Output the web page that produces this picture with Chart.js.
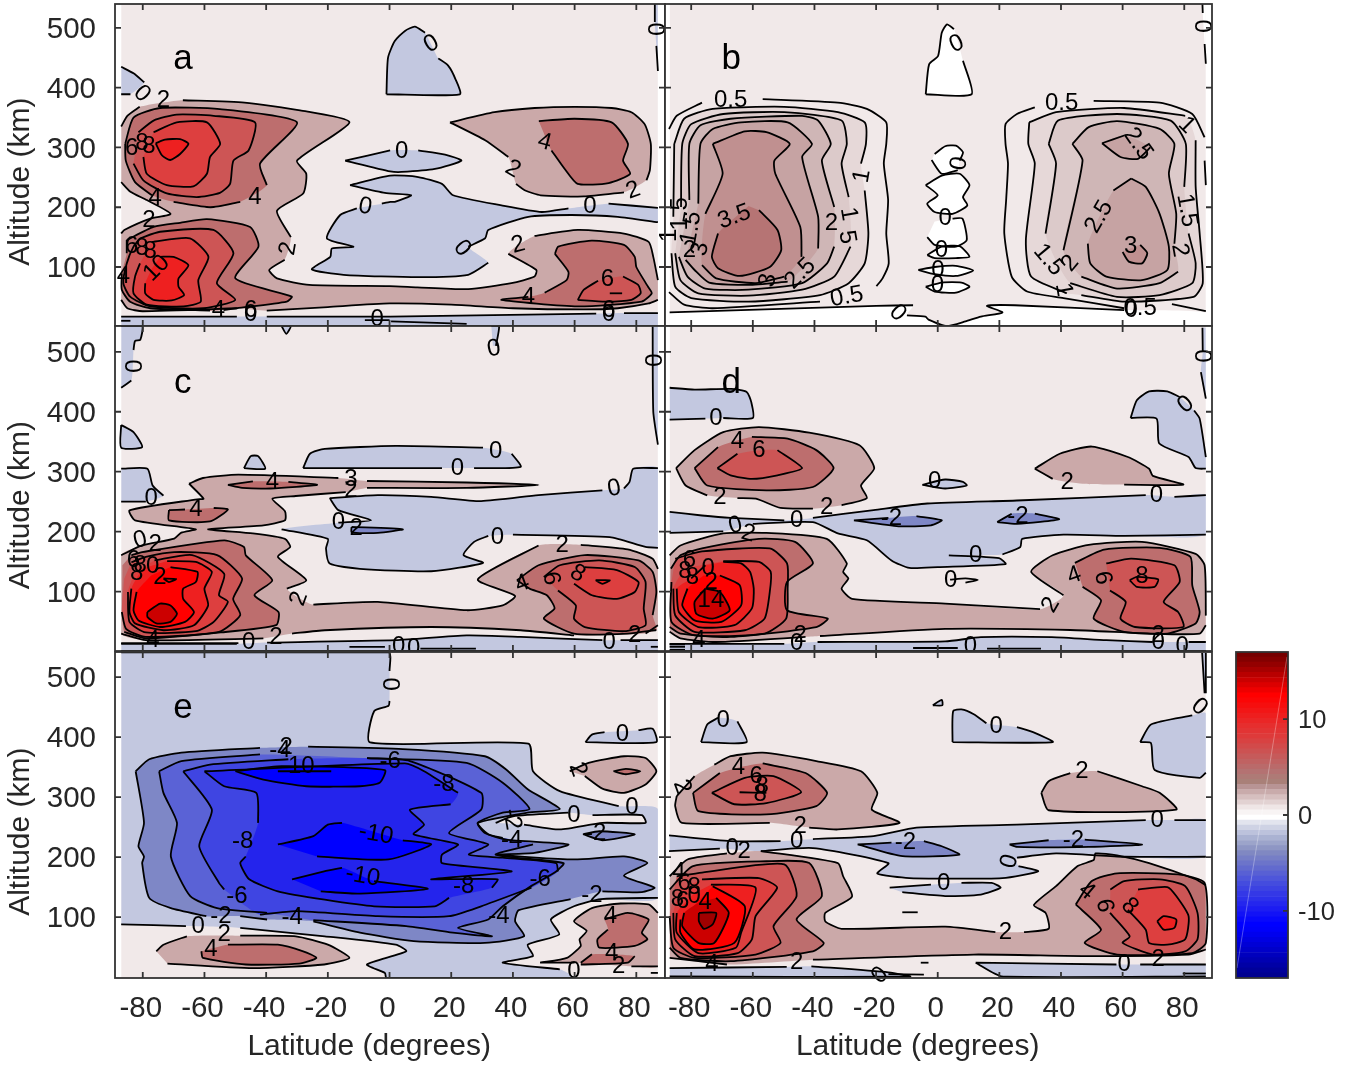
<!DOCTYPE html>
<html>
<head>
<meta charset="utf-8">
<title>Altitude latitude contours</title>
<script src="https://cdn.jsdelivr.net/npm/chart.js@4/dist/chart.umd.min.js"></script>
<style>
html, body { margin: 0; padding: 0; background: #fff; overflow: hidden; }
#page { position: relative; width: 1360px; height: 1066px; overflow: hidden; }
canvas { position: absolute; }
</style>
</head>
<body>
<div id="page"></div>
<script>
// BR = break in the drawn contour (gap for a label); the fill ignores it
var BR = null;

var latTicks = [-80, -60, -40, -20, 0, 20, 40, 60, 80];
var altTicks = [100, 200, 300, 400, 500];
var barTicks = [-10, 0, 10];

// contour shapes: [level, [lat, alt, lat, alt, ...]]
var panelA = [
  [0, [-87,435,-83,424,-79.5,409,BR,-84,389,-87,389]],
  [0, [-1,389,-0.5,450,1.7,478,5,495,8.2,502,11.5,492,BR,15.8,449,19,437,21.4,414,22.8,389,-1,389]],
  [0, [86,540,86,510,BR,86.5,470,87,428,BR,87,540]],
  [0, [-87,17,-49.5,17,BR,-39.8,17,0.2,17,67,22,BR,76,23,87,23,BR,87,1,-87,1]],
  [0, [-14.4,278,0.2,295,BR,9.3,295,18,288,23.3,278,14.7,264,3.9,259,0.2,260,-14.4,278]],
  [0, [-12.8,237,0.2,253,9.3,250.5,17,239,20.6,220,36.3,203,49.3,192,58,198,BR,71,206,87,199,BR,87,175,74,184,59,187,45,184,32,162,31,148,25.5,134,BR,32,107,25.5,87,9.3,83,-14.9,87,-25.2,96,-19.2,117,-18.7,131,-11.7,134,-20.3,148,-16,187,-10.6,198,BR,-2.5,206,0.2,209,1.7,209,7,220,-1.5,224,-12.8,237]],
  [2, [-87,335,-85,353,-81,368,BR,-67,379,-47,375,-29,362,-13,342,-30,278,-27,256,-28,223,-36.5,194,-32,150,BR,-34,112,-39,95,-36.5,81,-26,70,0,68,9,66,25.5,63,39.5,73,47,84,47.6,95,38.5,122,BR,47,152,61,162,76,156,84,142,85.5,117,87,78,BR,87,45,84,39,74,31,63,29,40,31,20,37,0,39,-20,33,-39.8,27,BR,-49.5,31,-80,26,-85,31,-87,45,BR,-87,156,-86,162,-77.6,181,-71,189,-78.7,212,-84,226,-87,242]],
  [2, [19.6,342,34,359,47,366,60,368,72,366,78.4,359,82.7,339,84.7,306,84.4,262,83.3,245,BR,76,225,63,218,49,220,44,228,41,239,BR,38.5,284,31,312,19.6,342]],
  [4, [-85.7,306,-85.5,278,-82.5,242,-77,220,BR,-70,209,-58,200,-48.4,209,BR,-39.8,237,-42,273,-30,342,-55,364,-74.4,366,-83,350,-85.7,306]],
  [6, [-81.4,325.5,-76.5,345,-69,355,-57,353,-43.6,342,-45.7,295,-50.6,278,-51.7,239,-55,224,-62.5,217,-72.2,223,-79.8,245,-83,273,BR]],
  [8, [-79.8,284,-78.7,256,-72.2,237,-63.6,235,-59.2,256,-58.2,284,-54.9,306,-59.2,342,-69,342,-76.5,325.5,BR]],
  [10, [-75.8,307,-72.8,313,-67.9,314,-65.2,306,-67.9,289,-71.1,279,-73.8,287]],
  [4, [-85.2,145,-76.5,167,-67.9,174,-59.2,180,-45.2,167,-42.5,134,-50,81,-31.7,50.5,-33.3,42,-49.5,31,-53.8,28,BR,-58.2,27,-77.6,31,-84.1,42,-86.8,62,-86.8,89,BR,-85.2,123,-85.2,145]],
  [6, [-80.9,148,-74.4,159,-57.1,162,-50.6,123,-56,73,-50,45,-60.3,31,-77.6,34,-84.1,50.5,-86.3,73,-85.2,106,-83,134]],
  [8, [-77.1,142,-64.7,148,-58.7,117,-62,78,-61.2,42,-66.8,34,-78.7,37,-83,56,-82.5,84,-80.9,106,BR]],
  [10, [-74.4,117,-70,117,-65.2,103,-68.4,81,-68.4,67,-66.6,53,-70.6,44,-76.5,45,-79.2,56,-79.2,73,BR,-77,98]],
  [4, [48.4,344,60,348,72,342,77.3,306,75.7,278,78,256,71,240.5,61,239,56.8,264,52.5,295,BR,48.4,344]],
  [4, [53.6,122,54.7,134,65.5,144,76,137,79.5,117,80,100,83.8,67,85,56,81.7,42,61,34,36.3,45,45,50,BR,50.3,57,57.4,78,58,92,53.6,122]],
  [6, [61,45,63,62,67.6,77,BR,75.7,84,80.6,70,81.4,56,78.4,45,70,42,61,45]],
  [null, [71.4,56,75.4,56]],
  [null, [-87,10,-84,10]],
  [null, [-8,11,0,11,BR,0.5,9,25,5]]
];

var labelsA = [
  [-73.3,378,'2'],[-80.3,390,'0',45],[-83.6,298,'6'],[-80.3,306,'8'],[-78,302,'8'],[-76,214,'4'],[-43.6,217,'4'],
  [-78,178,'2'],[-83.6,134,'6'],[-80.3,131,'8'],[-77.6,126,'8'],[-75.5,98,'10',-45],[-86.3,84,'4'],[-55.5,28,'4'],
  [-45,27,'6'],[-45,21,'0'],[-32.8,131,'2',-80],[-7.9,201,'0',10],[-4,12,'0'],[13.6,473,'0',-30],[86,498,'0',90],
  [3.9,294,'0'],[40,264,'2',30],[79,228,'2',-20],[50.3,309,'4',15],[65,202,'0'],[23.5,131,'0',50],[41.7,137,'2',-15],
  [70.6,79,'6'],[45,50,'4'],[71,27,'6'],[71,21,'0']
];

var panelB = [
  [0, [-87,24,-20,35,-8,36,BR,-10,19,-4,17,-3,12,3,1,9,9,14,17,21,24,16,35,25,36,60.5,28,BR,87,24,BR,87,0,-87,0]],
  [0, [-3.9,389,-2.8,439,0.1,453,1.3,492,3,506,5.3,498,BR,8.2,445,11,389,-3.9,389]],
  [0, [-1,289,2.4,302,5.9,303,8.2,292,7.1,278,BR,6.5,262,1.3,256,-2,279]],
  [0, [-3.9,237,1.3,253,7.1,256,10.3,237,8.2,217,9.6,203,4.8,189,-1,192,-3.4,206,0,220]],
  [0, [-1,176,BR,4.8,181,8,181,9.4,145,5.9,134,-1,137,-3.4,150]],
  [0, [-3.4,120,1.3,134,7.1,135,10.3,117,5.9,115,-1,115]],
  [0, [-6.3,95,-1,100,5.9,102,11.5,94,5.9,85,-1,88]],
  [0, [-3.9,67,1.3,74,7.7,74,10.3,67,5.9,57,-1,59]],
  [0, [85.9,540,86,525,BR,86.6,473,87,440,BR,87,540]],
  [1, [-85.5,306,-82.3,348,-73,364.5,-49.8,368,-32.4,359,-23.7,342,-23.3,306,-24.9,273,BR,-23.7,228,-22.5,156,-23.7,106,-28.9,73,-38.2,53,-61.4,42,-80,48,-85.2,67,-86.4,123,BR,-85.8,184,-85.5,306]],
  [1.5, [-83.3,200.5,-82.9,306,-80,339,-69.6,356,-49.8,359,-31.2,345,-29.5,306,-31.2,273,-28.9,217,BR,-28.3,134,-33.6,84,-44,62,-61.4,52,-77.7,56,-83.5,78,-85.2,123,BR]],
  [2, [-80.6,212,-80.6,306,-77,337,-67.2,348,-44,353,-38.8,345,-34.7,306,-37.6,278,-33.6,200.5,BR,-33.6,134,-35.9,106,-44,73,-61.4,62,-75.4,64,-81.2,84,-84,117,BR]],
  [2.5, [-77.7,206,-77,306,-73,331,-63.8,342,-48.7,342,-40.8,306,-44,284,-38.8,184,-38.8,131,BR,-48.7,75.5,-61.4,70,-74.2,74,-78.9,95,-81.8,112,BR]],
  [3, [-73,306,-62.6,327,-55.6,325.5,-48,306,-53,278,-52.7,256,-44.6,167,-44.2,117,BR,-49.8,84,-59,73,-71.9,81,-76.5,103,BR,-75.4,189,-69.8,256,-73,306]],
  [3.5, [-58,195,-52,162,-50.8,128,-54.5,100,-64.3,85,-71.3,98,-73.3,117,-71.3,156,BR,-61.4,202]],
  [1, [29.7,342,38.4,359,60.5,366,80.3,353,BR,83.7,312,83.7,234,85,156,86,73,83,50,60.5,42,46.6,53,BR,41.9,56,30.3,84,28.6,145,31.5,273,29.4,306,29.7,342]],
  [1.5, [36,306,39,345,58.2,356,75.6,345,80.5,306,80,234,BR,81.4,156,83.7,106,82.6,73,72,53,58.2,50,43,73,BR,35,156,38.4,273,36,306]],
  [2, [43.7,306,49,334,58.2,344,72,331,76.8,306,75,256,77.4,189,76.8,139,BR,78,92,72,73,58.2,64,46.6,84,BR,40.8,128,47,278,43.7,306]],
  [2.5, [53.3,307,60.5,320,BR,69,300,65,281,59.3,284,53.3,307]],
  [2.5, [62.8,248,67.5,234,72,189,75,134,74.5,95,66.3,78,54.7,84,49.5,106,48.7,139,BR,57,228,62.8,248]],
  [3, [60,125,BR,65.7,137,68,123,66.3,106,62,109,60,125]],
  [null, [-87.2,331,-84.7,353,-76.5,375,BR,-56.8,381,-32.4,375,-23,364.5,-16.7,342,-16.7,306,-17.5,273,-16.1,212,-16.7,156,-15.9,106,-17.9,81,-19.9,68]],
  [null, [-87.2,58,-82.3,37,-73,31,-38.2,42]],
  [null, [31.5,367,25.7,356,22,339,22,306,22.8,273,22.2,212,21.6,156,24,84,29,59,40.8,48,60.5,31]],
  [null, [50.6,378,72,375,82.6,356,86.6,317]],
  [null, [86.6,278,87,237]],
  [null, [76,38,87,26]]
];

var labelsB = [
  [-67.2,378,'0.5'],[40.2,373,'0.5'],[-24.5,252,'1',-80],[80.8,337,'1',45],[-83.5,189,'1.5',-90],[-80,165,'1.5',-80],
  [-87,153,'1',-90],[-80.6,128,'2'],[-77,130,'3',-80],[-66,184,'3.5',-20],[-29,189,'1',80],[-34.5,173,'2'],[-29.5,150,'5',80],
  [-44.6,89,'2.5',-45],[-55,78,'3',-80],[-29.5,50,'0.5',-10],[-13,23,'0',45],[6.2,473,'0',-25],[7,273,'0',-80],[2.4,181,'0'],
  [1.2,128,'0'],[0.1,95,'0'],[-0.1,70,'0'],[65,306,'2.5',55],[52.4,184,'2.5',-60],[62.6,134,'3'],[80.8,195,'1.5',80],
  [78.5,128,'2',80],[36,112,'1.5',50],[43,106,'2',-50],[40.8,62,'1',80],[65.7,31,'0.5'],[62.8,28,'0'],[85.5,503,'0',90]
];

var panelC = [
  [0, [-87,543,-80.2,543,-80.8,520,-82.5,518,-83,503,BR,-83.7,452,-87,440]],
  [0, [-87,378,-83,366,-80.2,341,-87,340]],
  [0, [-47.2,306,-45,326,-42.6,326,-40.3,305]],
  [0, [-28,306,-25.8,330,-21,338,2,343,30.3,340,BR,39.6,330,42.5,308,27.4,306,BR,17,306,-28,306]],
  [0, [-87,305,-78.5,305,-76.8,277,-73.3,260,BR,-79,250,-87,250]],
  [0, [-19.4,256,-16.6,236,-6,219,-16.6,215,BR,-35,204,-20,188,-20.6,172,-19.4,147,-9.6,138,13.5,134,30.3,148,24,161,27.4,183,32,193,BR,40,195,71.4,191,83,174.5,87,173,BR,87,306,79,305,77.8,283,76,272,BR,69,269,48.3,261,29.7,251,13.5,258,-3.8,261,-19.4,256]],
  [-2, [-12.3,208,4.3,204,-3.8,198,-12.3,199]],
  [0, [85.3,543,85.5,400,87,345,BR,87,543]],
  [0, [33,543,35.5,543,34.5,510,BR,33.5,510]],
  [0, [-35,543,-33.5,530,-32,543]],
  [2, [-65,280,-60.5,289.5,-49,295,-16.6,289.5,BR,-7.3,284.5,25,282,48.3,278,25,273,-7.3,273,BR,-14.2,266,-30.4,259.5,-38,255,-33.9,234,-33.9,219,-40.9,210.6,-58.8,204,-44.3,197,-33.9,188,-32.2,174.5,-36.2,158,-27,119,-33.3,105,BR,-24.7,78.4,-3.8,83,25,69,36.7,77,40.7,93,28.6,120.6,48.3,177,BR,62,178,77.2,170.6,85.3,155,87,138,BR,87,44,83,30,BR,59.8,27,42.5,35.6,13.5,41,-21,35.6,-31.6,30,BR,-40.9,22,-79,19,-87,30,BR,-87,160.6,-80.2,177,-69.8,188.4,-67.5,198.4,-62.8,204,-82.5,219,-84.3,235.6,-62.3,254,-60.3,255,-65,280]],
  [0, [-87,13,-49.5,13,BR,-39.7,15,2,19,25,27,42.5,24.5,69,19,BR,74.9,19,87,19,BR,87,1,-87,1]],
  [4, [-52.4,278,-44.3,284,BR,-32.8,283,-23.5,278,-38.6,272,-47.8,273,-52.4,278]],
  [4, [-71.5,236,-66.3,237,BR,-57,239.5,-52.4,237,-58.2,217,-71.5,219,-71.5,236]],
  [4, [-83.7,160.6,-80.2,166,-53.6,185.6,-47.2,174.5,-46.6,160.6,-38,119,-43.8,94,-36,66,-36.8,44,-54.7,32,-79,22,-86,33,BR,-86.6,144]],
  [6, [-83.7,149,-79,158,-69.8,166,-55.9,161,-47.8,122,-50.7,88,-48.4,61,-55.3,33,-79,24.5,-85.4,38,-86.8,66,BR,-86,122]],
  [8, [-76.2,152,-64,161,-53.6,130,-55.3,94,-52.4,83,-57,49.5,-62.8,34,-79,32,-84.3,49.5,-84.8,99.5,BR,-82.5,133]],
  [10, [-72.1,151,-62.8,149.5,-57.6,133,-60,105,-58.8,77,-63.4,44,-73.3,35.6,-82.5,47,-84.3,66,-83.7,105,BR,-80.2,138]],
  [12, [-71,141,-62.3,133,-62.8,116,-66.9,105,-66.9,88,-63.4,66,-66.3,49.5,-74.4,41,-81.4,52,-83,69,-82,99.5,BR,-77.3,127]],
  [14, [-78.5,66,-74.4,80,-71,77,-68.9,63,-71,49.5,-75.6,47,-78.5,58]],
  [null, [-73.3,122,-69.2,121,-71.5,116,-73.3,122]],
  [4, [41.3,119,48.3,144,63.3,161,80.7,152,85.3,133,86.5,99.5,85.3,61,BR,86.5,36,77.2,30,59.8,30,50,55,53.5,72,51,94,45.4,105,41.3,119]],
  [6, [50,124.5,55.2,144,68,152,79.5,141,83,116,82.4,72,83,44,76,34,63.3,41,59.8,55,60.4,77,54.6,102,BR]],
  [8, [63.3,141,73.7,136,80.7,116,79.5,99.5,73.7,88,65.6,94,59.8,113,BR]],
  [10, [66.8,119,71.4,119,69,113]],
  [null, [-13,8,-1.5,8,BR,10,5,28,5]],
  [null, [84.7,8,87,8]],
  [null, [-87,14,-49,14]]
];

var labelsC = [
  [-83.7,476,'0',90],[33.8,505,'0',-10],[85,486,'0',90],[34.4,334,'0'],[22,305,'0'],[72.8,272,'0',-10],[-77.3,255,'0'],
  [-12.5,287,'3'],[-12.5,269,'2'],[-38,283,'4'],[-62.8,238,'4'],[-16.6,215,'0'],[-10.8,205,'2'],[35,191,'0'],
  [-80.8,186,'0',-15],[-76,178,'2'],[56,177,'2'],[-29.3,88,'2',-70],[-76.7,19,'4'],[-45.7,16,'0'],[-36.8,24,'2'],
  [71.2,16,'0'],[79.5,27,'2'],[43,113,'4',-20],[52.3,122,'6',80],[61,130,'8',30],[3,8,'0'],[7.8,5,'0'],
  [-83,152,'6'],[-80.8,144,'8'],[-82,131,'8'],[-76.8,142,'0'],[-74.4,124,'2']
];

var panelD = [
  [0, [-87,440,-78.9,437,-67,438,-62,433,-60.5,416,-60,389.6,-69.6,389.6,BR,-75.4,388.5,-87,387]],
  [0, [62.6,389.6,64.6,419,68.6,434,74.5,434,78.5,424.5,BR,83.2,402,85,388.5,87,324.5,BR,87,305,83.7,306,81.4,324.5,71.9,347,71,388.5,62.6,389.6]],
  [0, [85.9,540,86,500,BR,85.4,466,87,422,BR,87,540]],
  [0, [-5,278,2.4,287,8.2,283,9.4,277,2.4,272]],
  [0, [-87,233,-76.5,227,-67.2,223,-49.8,219,BR,-40.5,223,-20.8,236,-3.4,247,25.7,252,67.5,261,BR,76.8,258,87,261,BR,87,195,60.5,193,40.8,195,27.4,188,26.8,174.5,21,162,BR,3.6,160.6,19.9,156,22,146,0,141,-9.2,139.5,-15,152,-23,185.6,-32.4,197,-40.5,216,-60,213,BR,-69.6,200.6,-87,198]],
  [-2, [-27.2,219,-16,223,BR,-6.9,226,1.3,219,-2.2,210.6,-12.7,209,-27.2,219]],
  [-2, [19.3,216,24,230,BR,31.5,230,39.4,220.6,25.7,213,19.3,216]],
  [0, [-87,13,-49.8,13,BR,-39,16,2.4,17,14,24,37,24,54.7,19,69.8,16,BR,81.4,16,87,16,BR,87,1,-87,1]],
  [2, [-84.9,306,-78.9,336,-69.6,366,-58,374.5,-41.7,365,-25.4,344,-20.6,306,-24.9,277,-23,256,-31.2,244,BR,-40.5,238.4,-51,239.5,-59,255,-65,256,BR,-74.8,260.6,-81.8,277,-84.9,306]],
  [4, [-78.9,306,-71.3,341,BR,-60.3,358,-48.7,355,-39.4,336,-33.8,306,-40.5,274.5,-55.6,269,-74.8,277,-78.9,306]],
  [6, [-71.5,306,-65,330,BR,-52,336,-44,306,-52,294,-60.3,288,-67.2,294,-71.5,306]],
  [2, [31.5,305,39.6,330,50,342,61.7,324.5,68.6,305,69.8,293,79.7,278.5,60.5,278.5,BR,47,280,BR,37.3,288,31.5,305]],
  [2, [-87,160.6,-83.5,177,-69.6,197,-55.6,198,-36,188,-29.5,147,-30.7,133,-29,122,-31.2,105,-27.8,88,2.4,80,33.2,70.7,BR,40.8,94,30.3,133,37.3,160.6,49,178,66.3,183,83.7,163,86.6,144,87,60,BR,87,44,85,30,69.8,30,43,36,2.4,38,-38.2,26,BR,-42.9,24.5,-71.9,16,-83.5,22,-87,33,BR]],
  [4, [-86.6,138.4,-83.5,160.6,-76.5,172,-58,188,-46.3,183,-40.5,147,-48.9,116,-48.9,69,-35.7,55,-39.4,41,-67.2,24.5,-83.5,30,-87,41,BR]],
  [6, [-85.2,155,-76.5,167,-54.5,172,-48.9,147,-48.7,105,-49.2,55,-56.2,30,-78.9,27,-86.4,49.5,-86.4,116,BR]],
  [8, [-69.6,151,-58,149.5,-54.2,133,-54.5,99.5,-56.2,55,-62.6,35.6,-78.9,33,-85.2,60.6,-85.8,105,BR,-82.3,138.4]],
  [10, [-69.6,149.5,-63.8,147,-60.9,133,-59.7,105,-60.3,72,-66,44,-77.7,41,-84,66,-84.7,105,BR,-80,122,-75.4,144]],
  [12, [-70.7,127,-64.3,111,-63.8,77,-70.2,49.5,-78.9,52,-82.9,77,-81.2,105,BR,-76,127]],
  [14, [-75.4,105,-70.7,99.5,-67.5,69,-73,55,-78.3,63,-78.9,83]],
  [4, [44.5,148,54,170,72,173,82,158,82.6,110.6,85,66,83.7,47,74.5,30,60.5,33,50.6,55,53,85.6,47,108,BR]],
  [6, [54.7,147,62.8,155,76.8,144,78.5,116,73.3,83,78,66,79.7,41,64,41,59.3,55,61,83,55.9,102,BR]],
  [8, [62.3,119,64.6,124.5,71.5,120.6,70.4,108,64.6,108]],
  [null, [4,120,9,122,13,119.5,9,115]],
  [null, [-87,12,-82,12]],[null, [-87,8,-82,8]],[null, [-87,3,-82,3]],
  [null, [-8,6,6.5,6,BR,16,5,33.5,5]]
];

var labelsD = [
  [-72,389,'0'],[80.5,412,'0',-40],[85.5,493,'0',90],[-1,284,'0'],[71,260,'0'],[-65.6,210,'0',-15],[-61.5,197,'2',15],
  [-45.8,219,'0'],[-36,241,'2'],[-70.7,257,'2'],[42,283,'2'],[-65,350,'4'],[-58,336,'6'],[-15,223,'-2'],[26,226,'-2'],
  [12.3,161,'0'],[4.2,119,'0'],[36.7,78,'2',-60],[44.3,127,'4',-20],[53.5,123,'6',80],[66.3,126,'8'],
  [-80.6,152,'6'],[-82,133,'8'],[-79.6,124,'8'],[-74.5,138,'0'],[-73.5,115,'2'],[-73.6,85,'14'],[-77.5,19,'4'],
  [-45.8,13,'0'],[-44.6,27,'2'],[71.5,16,'0'],[71.5,27,'2'],[79.3,8,'0'],[10.6,8,'0']
];

var panelE = [
  [0, [-87,541,-0.3,541,0,510,BR,0,460,-0.3,452,-5,443,-6.3,391,45,389,46.5,343,55.2,310,74.3,285,BR,87,280,BR,87,132,68.5,130,59.8,118,52.3,96,55,71,44.8,54,46.5,35,36.7,24,55.2,13,BR,59.8,-1.5,-1,-1.5,-1.5,7,-7.3,21,5.4,43,2,54,-21,68,-48.4,82,BR,-66,85,-87,88,BR]],
  [1, [34.4,257,40,268,58,274,BR,65.8,270,81.8,270,83,257,69,257,55.2,246,43.6,254]],
  [0, [63.5,391.5,65.6,404,69.7,408,BR,80.7,411.5,85.3,414,86.5,391.5,63.5,391.5]],
  [2, [58.4,343,64.5,357,76,368,83,365,86.5,343,83,321,76,307,69,314,63.3,335,BR]],
  [4, [72.6,343,76.6,347,81.3,343,76.6,338]],
  [-2, [62.7,238,68,243,79.5,238,69,228]],
  [-2, [-82.3,343,-77.9,363,-67.5,374,-42,382,BR,-26.4,384,4.3,380,30.9,368,37.8,346,44.8,313,55.2,280,44.8,274,28.6,257,30.9,240,37.8,229,58,221,47,207,35,204,59.8,196,76,201,83.6,190,76,169,85.9,149,81.8,141.5,69,143,BR,58.7,130,41.9,111.5,40.7,93,43.6,68,30.9,57,7.8,60,-9.6,74,-24.7,93,BR,-39.7,96,-48.4,101.5,BR,-59.4,101.5,-70.9,115,-77.9,132,-80.2,190,-79.6,201,-81.4,218,-79.6,257,-82.3,343]],
  [-4, [-74.7,343,-67.5,360,-42,371,BR,-7.3,365,25,357,36.7,324,45.4,280,36.7,274,28.6,257,32,238,36.7,232,BR,46.5,221,34.4,204,56.4,190,54,176,46,152,36.7,118,32,96,22.2,82,33.2,68,20.5,74,5.4,85,-24.7,95,BR,-39.7,107,-55.9,115,-64.6,135,-70.9,201,-68.9,257,-73.3,307,-74.7,343]],
  [-6, [-66.9,343,-58.2,354,-32.8,363,BR,-7.3,365,6.6,360,29.7,307,29.7,279,19.3,240,32,221,25.7,204,36.7,199,54,190,54.6,176,BR,46,149,29.7,118,19.3,101.5,-3.8,101.5,-30.4,110,-42,104,BR,-53.6,146,-55.3,157,-61.7,218,-57.6,279,-66.9,343]],
  [-8, [-60,343,5,356,11.2,343,22.2,307,BR,19.8,288,6.6,279,11.2,254,7.8,238,22.2,221,17,204,17,190,39.6,176,13.5,163,35,163,33.2,149,BR,19.3,132,14.7,118,-5,118,-21,129,-36.2,143,-45.5,163,-48.4,190,-46.6,201,BR,-42.6,257,-43.2,307,-53.6,318,-60,343]],
  [-10, [-50,343,-35,351.5,-1.5,345,-3.2,324,-9.6,318,-27,318,-40.9,329]],
  [null, [-36.2,343,-18.9,343]],
  [-10, [-36.2,221,-24.7,235,-20,254,-15.4,257,BR,4.3,228,13.5,221,-0.3,196,-23.5,201]],
  [-10, [-31.6,163,-21.2,176,-15.4,182,BR,-5,160,12.4,147,-9.6,139,-22.3,143]],
  [2, [-75.6,43,-73.3,54,-65.7,68,BR,-48.4,69,-30.4,68,-20,54,-13,32,-21.2,21,-44.3,15,-72,22.6]],
  [4, [-61,43,BR,-52.4,54,-36.2,54,-28,43,-23.7,32,-29.3,22.6,-46.6,21,-60.5,32,-61,43]],
  [2, [48.8,24,57.5,32,62,52,61.6,63,63.9,77,59.8,93,65.6,115,74.9,122.6,84,121,87,107,BR,87,18,78.4,18,BR,60,24,48.8,24]],
  [4, [69.7,96,77.2,107,84,96,81.8,74,83.6,63,79.5,52,68,49,67.4,63,70.8,79,BR,69.7,96]],
  [4, [62,24,65.6,38,BR,79.5,35,77.2,24,62,21]],
  [null, [84.7,7,87,7]]
];

var labelsE = [
  [0,488,'0',90],[75.5,404,'0'],[61,346,'2',70],[78.6,282,'0'],[59.8,269,'0'],[39.6,263,'-2',80],[66.8,240,'-2'],
  [39.6,228,'-4'],[65.6,137,'-2'],[48.8,163,'-6'],[24,151.5,'-8'],[35.5,101.5,'-4'],[-31.6,99,'-4'],[-49.5,135,'-6'],
  [-47.6,226,'-8'],[-4.4,238,'-10',10],[-8.7,168,'-10',10],[-29.9,351.5,'-10'],[0.2,360,'-6'],[17.6,321,'-8'],
  [-35.5,378,'-4'],[-33.5,382,'2'],[-62,84,'0'],[-54.7,101.5,'-2'],[-53.6,71,'2'],[-57.9,46,'4'],
  [59.8,10,'0'],[74.3,18,'2'],[72,40,'4'],[71.6,101,'4']
];

var panelF = [
  [0, [-76.8,391.5,-74.8,421,-71.3,432,BR,-65,426,-62,391.5,-76.8,391.5]],
  [0, [-1.6,453,1.3,462,1.5,453,-1.6,453]],
  [0, [4.8,391.5,5,443,7.7,446,11.7,438,15.8,423,BR,25.7,416.5,31.5,407,37.3,391.5,4.8,391.5]],
  [0, [65.7,391.5,69.2,421,82.6,436,BR,87,440,BR,87,340.4,85,332,70.4,345,69.2,390,65.7,391.5]],
  [0, [85.8,540,86.6,473,BR,87,473,87,540]],
  [0, [-87.2,236,-67.2,226.5,-51,226.5,BR,-40.5,230,-20.8,235,-6.9,249,25.7,254,67.5,261.5,BR,76.8,261.5,87,261.5,BR,87,200.5,60.5,200.5,38.4,206,25.7,199,BR,26.2,185,32.6,176.5,21,165,-9.2,165,-19.6,172.7,-16,190,-40.5,215,-57.4,210,BR,-70.7,214,-87.2,210]],
  [0, [-15.6,149,-2.2,154,BR,7.7,157,17.5,157,20.4,149,14,137.6,2.4,135,-11.5,141.5]],
  [-2, [-26,221,-15,224,BR,-4.5,226.5,1.3,218,7,204,-11.4,201.5,-26,221]],
  [-2, [23.3,221,36,228,BR,47.7,229,66.3,221,49,217,25.7,217,23.3,221]],
  [0, [-87,15,-49,17,BR,-41,18,-16,8,-9,1,-87,1]],
  [0, [12.3,24,58,21,BR,65.7,21,87,21,BR,87,1,21,1,12.3,24]],
  [2, [-84.7,301.5,-78.9,335,BR,-72.5,354,-67.2,368,-56.8,374,-39.4,360,-24.9,343,-19.6,307,-21.4,279,-12.4,257,-32.4,246,-41.7,249,BR,-54.5,257,-83,257,-85.2,285,-84.7,301.5]],
  [4, [-79.4,307,-70.7,340,BR,-56.8,356,-42.9,340,-35.9,307,-39.4,285,-55.6,271,-77.7,276.5,-79.4,307]],
  [6, [-73.3,307,-62.6,332,-53.3,335,-44.3,308,-55.6,290,-66,288,-73.3,307]],
  [null, [-64.3,308,-55.6,307]],
  [2, [33.6,307,36,326.5,43,340,BR,51.8,343,66.3,318,72,307,77.4,279,36,278,33.6,307]],
  [2, [-87,168,-81.2,196,-68.4,206,BR,-57.4,210,-32.4,190,-30.7,168,-27.8,134,-36.5,107,-36.5,93,-31.2,80.5,2.4,84,18.7,75,BR,28,75,36,80.5,35,107,31.2,120,38.4,151.5,45.4,185,50.6,195,51.2,206,58.2,203,68.6,190,83.7,163,87,153,BR,87,46,81.4,37.6,49,35,11.7,37.6,-40.5,29,BR,-68.4,21,-87,32,BR]],
  [4, [-87,146,-79.4,185,-55.6,193,-41.7,190,-37.6,135,-45.8,96,-37,57,-40.5,43,-67.2,26.5,-83.5,32,-87,49,BR]],
  [6, [-84.7,168,-76.5,174,-49.8,188,-45.8,135,-53.3,85,-51,57,-59.1,37.6,-78.9,32,-85.8,49,-87,101.5,BR]],
  [8, [-76.5,163,-58,165,-52.1,149,-59.1,101.5,-60.3,63,-64.9,40,-78.9,35,-85.2,63,-85.8,107,BR,-83.5,146]],
  [10, [-73.6,154,-59.1,149,-63.8,74,-65.5,49,-77.7,40,-84.7,74,-84.7,107,BR,-78.9,140]],
  [12, [-73,151.5,-62.6,118,-66,57,-78.9,46,-83.5,74,-83.5,96,BR]],
  [14, [-71.9,132,-67.8,107,-72.5,57,-77.7,57,-82.9,85,-82.3,107,BR,-77.7,124]],
  [16, [-77.5,107,-71.9,107,-73,88,-75.9,80.5,-77.5,93]],
  [4, [44.8,121,50,160,58.2,173,78,171,86.6,157,87,57,82.6,40,58.2,37.6,47.7,57,53,79,44.8,121]],
  [6, [56,146,60.5,160,72,163,80.3,151.5,84.3,107,84.3,63,80.3,43,69.8,37.6,60,57,62.3,68,55.9,107,BR]],
  [8, [65,146,74.5,150,77.4,135,81.4,101.5,80.3,63,74.5,54,68.6,57,67.5,79,61.7,112,BR]],
  [10, [71.2,93,73.3,101.5,77.4,96,76.8,82,73.3,79]],
  [null, [-11.5,108,-6.5,108]],
  [null, [-5.5,24,-3,24]],
  [null, [79.5,6,87,6]],
  [null, [-16,5,-4.5,4]]
];

var labelsF = [
  [-69.6,428,'0'],[-83,317,'2',70],[-64.7,349,'4'],[-58.9,335,'6'],[-57,317,'8'],[-57.6,304,'8'],[-44.6,251,'2'],
  [-45.8,226,'0'],[-66.7,215,'0'],[-62.8,210,'2'],[-10.5,225,'-2'],[44,228,'-2'],[19,417,'0'],[84.9,450,'0',40],
  [46.8,342,'2'],[71.2,261.5,'0'],[23.3,193,'0',-75],[1.9,157,'0'],[22,74,'2'],[48.3,143,'4',40],[54.1,119,'6',80],
  [62.3,118,'8',45],[-84,174,'4'],[-82.3,157,'6'],[-79,149,'8'],[-84.5,129,'8'],[-82.8,126,'6'],[-79,135,'0'],
  [-75.5,124,'4'],[-73.3,21,'4'],[-45.8,24,'2'],[60.5,21,'0'],[71.5,29,'2'],[-18.7,3,'0',-45]
];

// contour fill colours by the level a shape starts from
var warmCold = { '-10':'#0000ff', '-8':'#2424ec', '-6':'#3f45e2', '-4':'#5a62d6', '-2':'#7e87c6', '0':'#c3c8e0', '1':'#f1e9e9',
  '2':'#cba9a9', '4':'#bd6e6e', '6':'#cd5555', '8':'#dd3f3f', '10':'#ee2020', '12':'#ff0000', '14':'#cc0000', '16':'#a00000' };
var halfSteps = { '0':'#ffffff', '1':'#e6d8d8', '1.5':'#dccaca', '2':'#cfb6b6', '2.5':'#c6a3a3', '3':'#c09090', '3.5':'#b67474' };

// colour bar bands, bottom to top
var barEdges = [-17,-16.47,-15.94,-15.41,-14.88,-14.34,-13.81,-13.28,-12.75,-12.22,-11.69,-11.16,-10.63,-10.09,-9.56,-9.03,-8.5,-7.97,-7.44,-6.91,-6.38,-5.84,-5.31,-4.78,-4.25,-3.72,-3.19,-2.66,-2.13,-1.59,-1.06,-0.53,0,0.53,1.06,1.59,2.13,2.66,3.19,3.72,4.25,4.78,5.31,5.84,6.38,6.91,7.44,7.97,8.5,9.03,9.56,10.09,10.63,11.16,11.69,12.22,12.75,13.28,13.81,14.34,14.88,15.41,15.94,16.47,17];
var barColors = ['#000090','#00009a','#0000a6','#0000b2','#0000be','#0000ca','#0000d6','#0000e2','#0000ee','#0000fa','#0000ff','#0808fb','#1212f6','#1c1cf2','#2426ee','#2c30ea','#3438e6','#3c42e2','#444cde','#4e56da','#5860d4','#626ace','#6c74ca','#767ec6','#8088c2','#8e96c4','#9ca4ca','#aab2d2','#bcc2dc','#ced2e4','#e2e4ee','#ffffff',
  '#f8f4f4','#efe6e6','#e2d2d2','#d6bfbf','#c9abab','#b89494','#a98078','#ae7a76','#b47272','#ba6a6a','#c06262','#c65a5a','#cc5252','#d24a4a','#d84242','#de3a3a','#e23434','#e62e2e','#ea2626','#ee1e1e','#f21616','#f60e0e','#fb0606','#ff0000','#ee0000','#dc0000','#ca0000','#b80000','#a60000','#940000','#840000','#760000'];

var FONT = '"Liberation Sans", Arial, sans-serif';
var INK = '#262626';
var AXIS = '#333333';
var SMOOTH = 0.2;

function pointsOf(list) {
  var fillPts = [], linePts = [];
  var i = 0;
  while (i < list.length) {
    if (list[i] === null) {
      linePts.push({ x: NaN, y: NaN });
      i += 1;
    } else {
      fillPts.push({ x: list[i], y: list[i + 1] });
      linePts.push({ x: list[i], y: list[i + 1] });
      i += 2;
    }
  }
  return { fillPts: fillPts, linePts: linePts, open: list.indexOf(null) >= 0 };
}

function plainFill(x0, x1, yMin, yMax, color) {
  return {
    data: [{ x: x0, y: yMin }, { x: x1, y: yMin }, { x: x1, y: yMax }, { x: x0, y: yMax }],
    showLine: true, fill: 'shape', backgroundColor: color, borderWidth: 0, pointRadius: 0
  };
}

function datasetsFor(shapes, colors, xMin, xMax, yMin, yMax) {
  var fills = [plainFill(-87, 87, yMin, yMax, '#f1e9e9')];
  var lines = [];
  shapes.forEach(function (s) {
    var p = pointsOf(s[1]);
    if (s[0] !== null) {
      fills.push({ data: p.fillPts, showLine: true, fill: 'shape', backgroundColor: colors[String(s[0])], borderWidth: 0, pointRadius: 0, tension: SMOOTH });
    }
    var ln = p.linePts.slice();
    if (s[0] !== null && !p.open) ln.push(ln[0]);
    lines.push({ data: ln, showLine: true, fill: false, borderColor: '#000', borderWidth: 1.8, pointRadius: 0, spanGaps: false, borderJoinStyle: 'round', tension: SMOOTH });
  });
  // the curved fills can bulge past the data edge, the margins stay white
  fills.push(plainFill(xMin, -87, yMin, yMax, '#ffffff'));
  fills.push(plainFill(87, xMax, yMin, yMax, '#ffffff'));
  // chart.js paints the last dataset first
  return fills.concat(lines).reverse();
}

function frameAndLabels(labels, letter) {
  return {
    id: 'frameAndLabels',
    afterDatasetsDraw: function (chart) {
      var ctx = chart.ctx, a = chart.chartArea, sx = chart.scales.x, sy = chart.scales.y;
      ctx.save();
      ctx.fillStyle = '#000';
      ctx.textAlign = 'center';
      ctx.textBaseline = 'middle';
      ctx.font = '24px ' + FONT;
      labels.forEach(function (l) {
        ctx.save();
        ctx.translate(sx.getPixelForValue(l[0]), sy.getPixelForValue(l[1]));
        if (l[3]) ctx.rotate(l[3] * Math.PI / 180);
        ctx.fillText(l[2], 0, 0);
        ctx.restore();
      });
      if (letter) {
        ctx.font = '35px ' + FONT;
        ctx.fillText(letter, sx.getPixelForValue(-67), sy.getPixelForValue(447));
      }
      ctx.strokeStyle = AXIS;
      ctx.lineWidth = 1.8;
      ctx.strokeRect(a.left, a.top, a.right - a.left, a.bottom - a.top);
      ctx.beginPath();
      sx.ticks.forEach(function (t) {
        var px = sx.getPixelForValue(t.value);
        ctx.moveTo(px, a.top); ctx.lineTo(px, a.top + 6);
        ctx.moveTo(px, a.bottom); ctx.lineTo(px, a.bottom - 6);
      });
      sy.ticks.forEach(function (t) {
        var py = sy.getPixelForValue(t.value);
        ctx.moveTo(a.left, py); ctx.lineTo(a.left + 6, py);
        ctx.moveTo(a.right, py); ctx.lineTo(a.right - 6, py);
      });
      ctx.stroke();
      ctx.restore();
    }
  };
}

function addCanvas(left, top, width, height) {
  var c = document.createElement('canvas');
  c.width = width; c.height = height;
  c.style.left = left + 'px'; c.style.top = top + 'px';
  c.style.width = width + 'px'; c.style.height = height + 'px';
  document.getElementById('page').appendChild(c);
  return c;
}

function makePanel(cfg) {
  var PAD = 6;
  var leftGutter = cfg.first ? cfg.left : PAD;
  var bottomGutter = cfg.bottomRow ? 88 : PAD;
  var canvas = addCanvas(cfg.left - leftGutter, cfg.top - PAD, leftGutter + cfg.width + PAD, PAD + cfg.height + bottomGutter);
  new Chart(canvas, {
    type: 'scatter',
    data: { datasets: datasetsFor(cfg.shapes, cfg.colors, cfg.xMin, cfg.xMax, cfg.yMin, cfg.yMax) },
    plugins: [frameAndLabels(cfg.labels, cfg.letter)],
    options: {
      responsive: false,
      animation: false,
      devicePixelRatio: 1,
      layout: { padding: { top: PAD, right: PAD, left: 0, bottom: 0 } },
      plugins: { legend: { display: false }, tooltip: { enabled: false } },
      scales: {
        x: {
          type: 'linear', min: cfg.xMin, max: cfg.xMax,
          grid: { display: false }, border: { display: false },
          afterBuildTicks: function (s) { s.ticks = latTicks.map(function (v) { return { value: v }; }); },
          afterFit: function (s) { s.height = bottomGutter; s.paddingLeft = 0; s.paddingRight = 0; },
          ticks: { display: !!cfg.bottomRow, autoSkip: false, maxRotation: 0, padding: 5, labelOffset: -2, color: INK, font: { family: FONT, size: 29.5 } },
          // trailing spaces push the centred title left, as in the original figure
          title: { display: !!cfg.bottomRow, text: 'Latitude (degrees)     ', color: INK, font: { family: FONT, size: 30 }, padding: { top: 0, bottom: 1 } }
        },
        y: {
          type: 'linear', min: cfg.yMin, max: cfg.yMax,
          grid: { display: false }, border: { display: false },
          afterBuildTicks: function (s) { s.ticks = altTicks.map(function (v) { return { value: v }; }); },
          afterFit: function (s) { s.width = leftGutter; s.paddingTop = 0; s.paddingBottom = 0; },
          ticks: { display: cfg.first, autoSkip: false, padding: 11, labelOffset: 2, color: INK, font: { family: FONT, size: 29.5 } },
          title: { display: cfg.first, text: 'Altitude (km)    ', color: INK, font: { family: FONT, size: 30 }, padding: { top: 3, bottom: 0 } }
        }
      }
    }
  });
}

var leftCol = { left: 115, width: 550, xMin: -89, xMax: 89.3, first: true };
var rightCol = { left: 665, width: 547, xMin: -88.5, xMax: 89, first: false };

function panel(col, extra) {
  makePanel(Object.assign({}, col, extra));
}

panel(leftCol, { top: 4, height: 322, yMin: 1.3, yMax: 540, shapes: panelA, labels: labelsA, letter: 'a', colors: warmCold });
panel(rightCol, { top: 4, height: 322, yMin: 1.3, yMax: 540, shapes: panelB, labels: labelsB, letter: 'b', colors: halfSteps });
panel(leftCol, { top: 326, height: 325, yMin: 1, yMax: 543, shapes: panelC, labels: labelsC, letter: 'c', colors: warmCold });
panel(rightCol, { top: 326, height: 325, yMin: 1, yMax: 543, shapes: panelD, labels: labelsD, letter: 'd', colors: warmCold });
panel(leftCol, { top: 652, height: 326, yMin: -1.5, yMax: 541.7, shapes: panelE, labels: labelsE, letter: 'e', colors: warmCold, bottomRow: true });
panel(rightCol, { top: 652, height: 326, yMin: -1.5, yMax: 541.7, shapes: panelF, labels: labelsF, letter: '', colors: warmCold, bottomRow: true });

// colour bar
var barCanvas = addCanvas(1228, 646, 132, 338);
new Chart(barCanvas, {
  type: 'bar',
  data: {
    labels: [''],
    datasets: barColors.map(function (c, i) {
      return { data: [[barEdges[i], barEdges[i + 1]]], backgroundColor: c, grouped: false, barPercentage: 1, categoryPercentage: 1, borderWidth: 0 };
    })
  },
  plugins: [{
    id: 'barFrame',
    afterDatasetsDraw: function (chart) {
      var ctx = chart.ctx, a = chart.chartArea, sy = chart.scales.y;
      ctx.save();
      ctx.strokeStyle = 'rgba(255,255,255,0.3)';
      ctx.lineWidth = 1;
      ctx.beginPath();
      ctx.moveTo(a.right - 1, a.top + 5); ctx.lineTo(a.left + 1, a.bottom - 10);
      ctx.stroke();
      ctx.strokeStyle = AXIS;
      ctx.lineWidth = 1.8;
      ctx.strokeRect(a.left, a.top, a.right - a.left, a.bottom - a.top);
      ctx.beginPath();
      sy.ticks.forEach(function (t) {
        var py = sy.getPixelForValue(t.value);
        ctx.moveTo(a.right, py); ctx.lineTo(a.right - 5, py);
      });
      ctx.stroke();
      ctx.restore();
    }
  }],
  options: {
    responsive: false,
    animation: false,
    devicePixelRatio: 1,
    layout: { padding: { top: 6, bottom: 6, left: 8, right: 0 } },
    plugins: { legend: { display: false }, tooltip: { enabled: false } },
    scales: {
      x: { display: false },
      y: {
        type: 'linear', position: 'right', min: -17, max: 17,
        grid: { display: false }, border: { display: false },
        afterBuildTicks: function (s) { s.ticks = barTicks.map(function (v) { return { value: v }; }); },
        afterFit: function (s) { s.width = 72; s.paddingTop = 0; s.paddingBottom = 0; },
        ticks: { autoSkip: false, padding: 2, labelOffset: 2, color: INK, font: { family: FONT, size: 25.5 } }
      }
    }
  }
});
</script>
</body>
</html>
